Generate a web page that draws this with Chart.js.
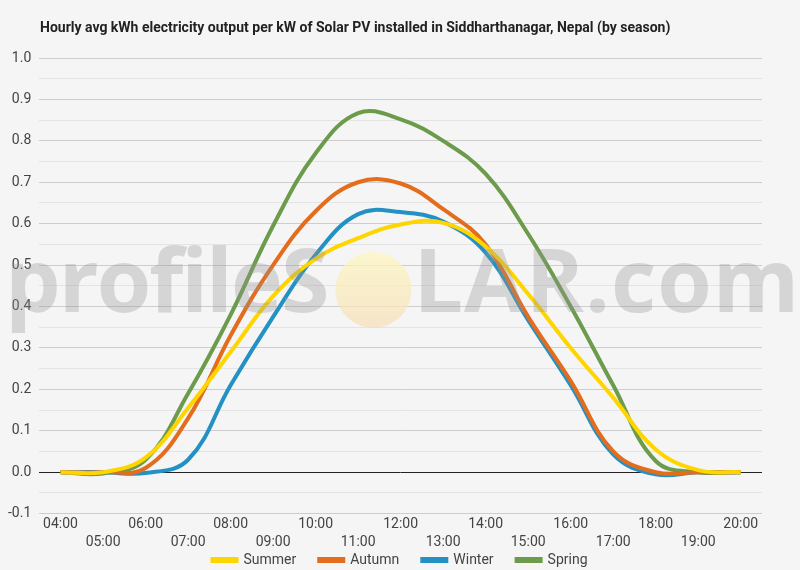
<!DOCTYPE html>
<html>
<head>
<meta charset="utf-8">
<script src="https://cdn.jsdelivr.net/npm/chart.js@4/dist/chart.umd.min.js"></script>
<style>
    html, body { margin: 0; padding: 0; background: #f5f5f5; }
    #wrap { position: relative; width: 800px; height: 570px; }
    #title {
        position: absolute; left: 40px; top: 19px;
        font: bold 14px Roboto, sans-serif; color: #222;
    }
</style>
</head>
<body>
<div id="wrap">
    <div id="title">Hourly avg kWh electricity output per kW of Solar PV installed in Siddharthanagar, Nepal (by season)</div>
    <canvas id="chart" width="800" height="570"></canvas>
</div>
<script>
const hours = ["04:00", "05:00", "06:00", "07:00", "08:00", "09:00", "10:00", "11:00", "12:00",
    "13:00", "14:00", "15:00", "16:00", "17:00", "18:00", "19:00", "20:00"];

const summer = [0, 0, 0.035, 0.155, 0.29, 0.425, 0.515, 0.565, 0.598, 0.602, 0.545, 0.43, 0.30, 0.18, 0.055, 0.005, 0];
const autumn = [0, 0, 0.01, 0.13, 0.33, 0.50, 0.63, 0.70, 0.697, 0.635, 0.55, 0.375, 0.22, 0.05, 0.0, 0, 0];
const winter = [0, 0, -0.002, 0.03, 0.21, 0.375, 0.525, 0.623, 0.628, 0.605, 0.53, 0.367, 0.21, 0.043, -0.005, 0, 0];
const spring = [0, -0.003, 0.03, 0.19, 0.38, 0.595, 0.77, 0.867, 0.852, 0.80, 0.72, 0.575, 0.40, 0.21, 0.027, 0, 0];

const yMin = -0.1, yMax = 1.0;

// big semi-transparent watermark over the plot
const watermark = {
    id: "watermark",
    afterDatasetsDraw(chart) {
        const ctx = chart.ctx;
        ctx.save();
        ctx.font = "bold 88px 'Open Sans', sans-serif";
        ctx.textBaseline = "alphabetic";
        ctx.letterSpacing = "-2px";
        const left = "profileS", right = "LAR.com";
        const wl = ctx.measureText(left).width;
        const circleX = 5 + wl + 46;
        const cy = 290;
        const grad = ctx.createLinearGradient(0, cy - 38, 0, cy + 38);
        grad.addColorStop(0, "rgba(252,246,190,0.75)");
        grad.addColorStop(1, "rgba(246,222,185,0.75)");
        ctx.fillStyle = grad;
        ctx.beginPath();
        ctx.arc(circleX, cy, 38, 0, Math.PI * 2);
        ctx.fill();
        ctx.fillStyle = "rgba(150,150,150,0.33)";
        ctx.fillText(left, 5, 312);
        ctx.letterSpacing = "1px";
        ctx.fillText(right, circleX + 40, 312);
        ctx.restore();
    }
};

// legend sits close under the two rows of hour labels, centred on the page
const legendPlace = {
    id: "legendPlace",
    beforeInit(chart) {
        const legend = chart.legend;
        if (!legend) return;
        const fit = legend.fit;
        legend.fit = function () {
            fit.call(this);
            this.height = 16;
        };
    },
    afterLayout(chart) {
        const legend = chart.legend;
        if (!legend) return;
        legend.top = 530;
        legend.bottom = chart.height;
        legend.height = legend.bottom - legend.top;
        legend.left = 0;
        legend.right = chart.width;
        legend.width = chart.width;
    }
};

const line = (label, data, color) => ({
    label, data,
    borderColor: color, backgroundColor: color,
    borderWidth: 4, pointRadius: 0, tension: 0.4, fill: false
});

new Chart(document.getElementById("chart"), {
    type: "line",
    data: {
        labels: hours,
        datasets: [
            line("Summer", summer, "#ffd500"),
            line("Autumn", autumn, "#e36c1d"),
            line("Winter", winter, "#2391c3"),
            line("Spring", spring, "#6b9b4b")
        ]
    },
    options: {
        responsive: false,
        animation: false,
        layout: { padding: { top: 58, left: 0, right: 38, bottom: 0 } },
        plugins: {
            title: { display: false },
            tooltip: { enabled: false },
            legend: {
                position: "bottom",
                labels: {
                    boxWidth: 24, boxHeight: 2, padding: 23,
                    color: "#444", font: { family: "Roboto", size: 14 }
                }
            }
        },
        scales: {
            x: {
                offset: true,
                grid: { display: false, drawTicks: false },
                border: { display: false },
                ticks: {
                    autoSkip: false, maxRotation: 0, padding: 2,
                    color: "#444", font: { family: "Roboto", size: 14, lineHeight: 1.3 },
                    callback: (v, i) => i % 2 ? ["", hours[i]] : hours[i]
                }
            },
            y: {
                min: yMin, max: yMax,
                border: { display: false },
                grid: {
                    drawTicks: false,
                    color: c => {
                        const k = Math.round(c.tick.value * 20);
                        if (k === 0) return "#222";
                        return k % 2 === 0 ? "#cdcdcd" : "#e4e4e4";
                    }
                },
                ticks: {
                    stepSize: 0.05, autoSkip: false, padding: 8,
                    color: "#444", font: { family: "Roboto", size: 14 },
                    callback: v => Math.round(v * 20) % 2 === 0 ? v.toFixed(1) : ""
                }
            }
        }
    },
    plugins: [watermark, legendPlace]
});
</script>
</body>
</html>
